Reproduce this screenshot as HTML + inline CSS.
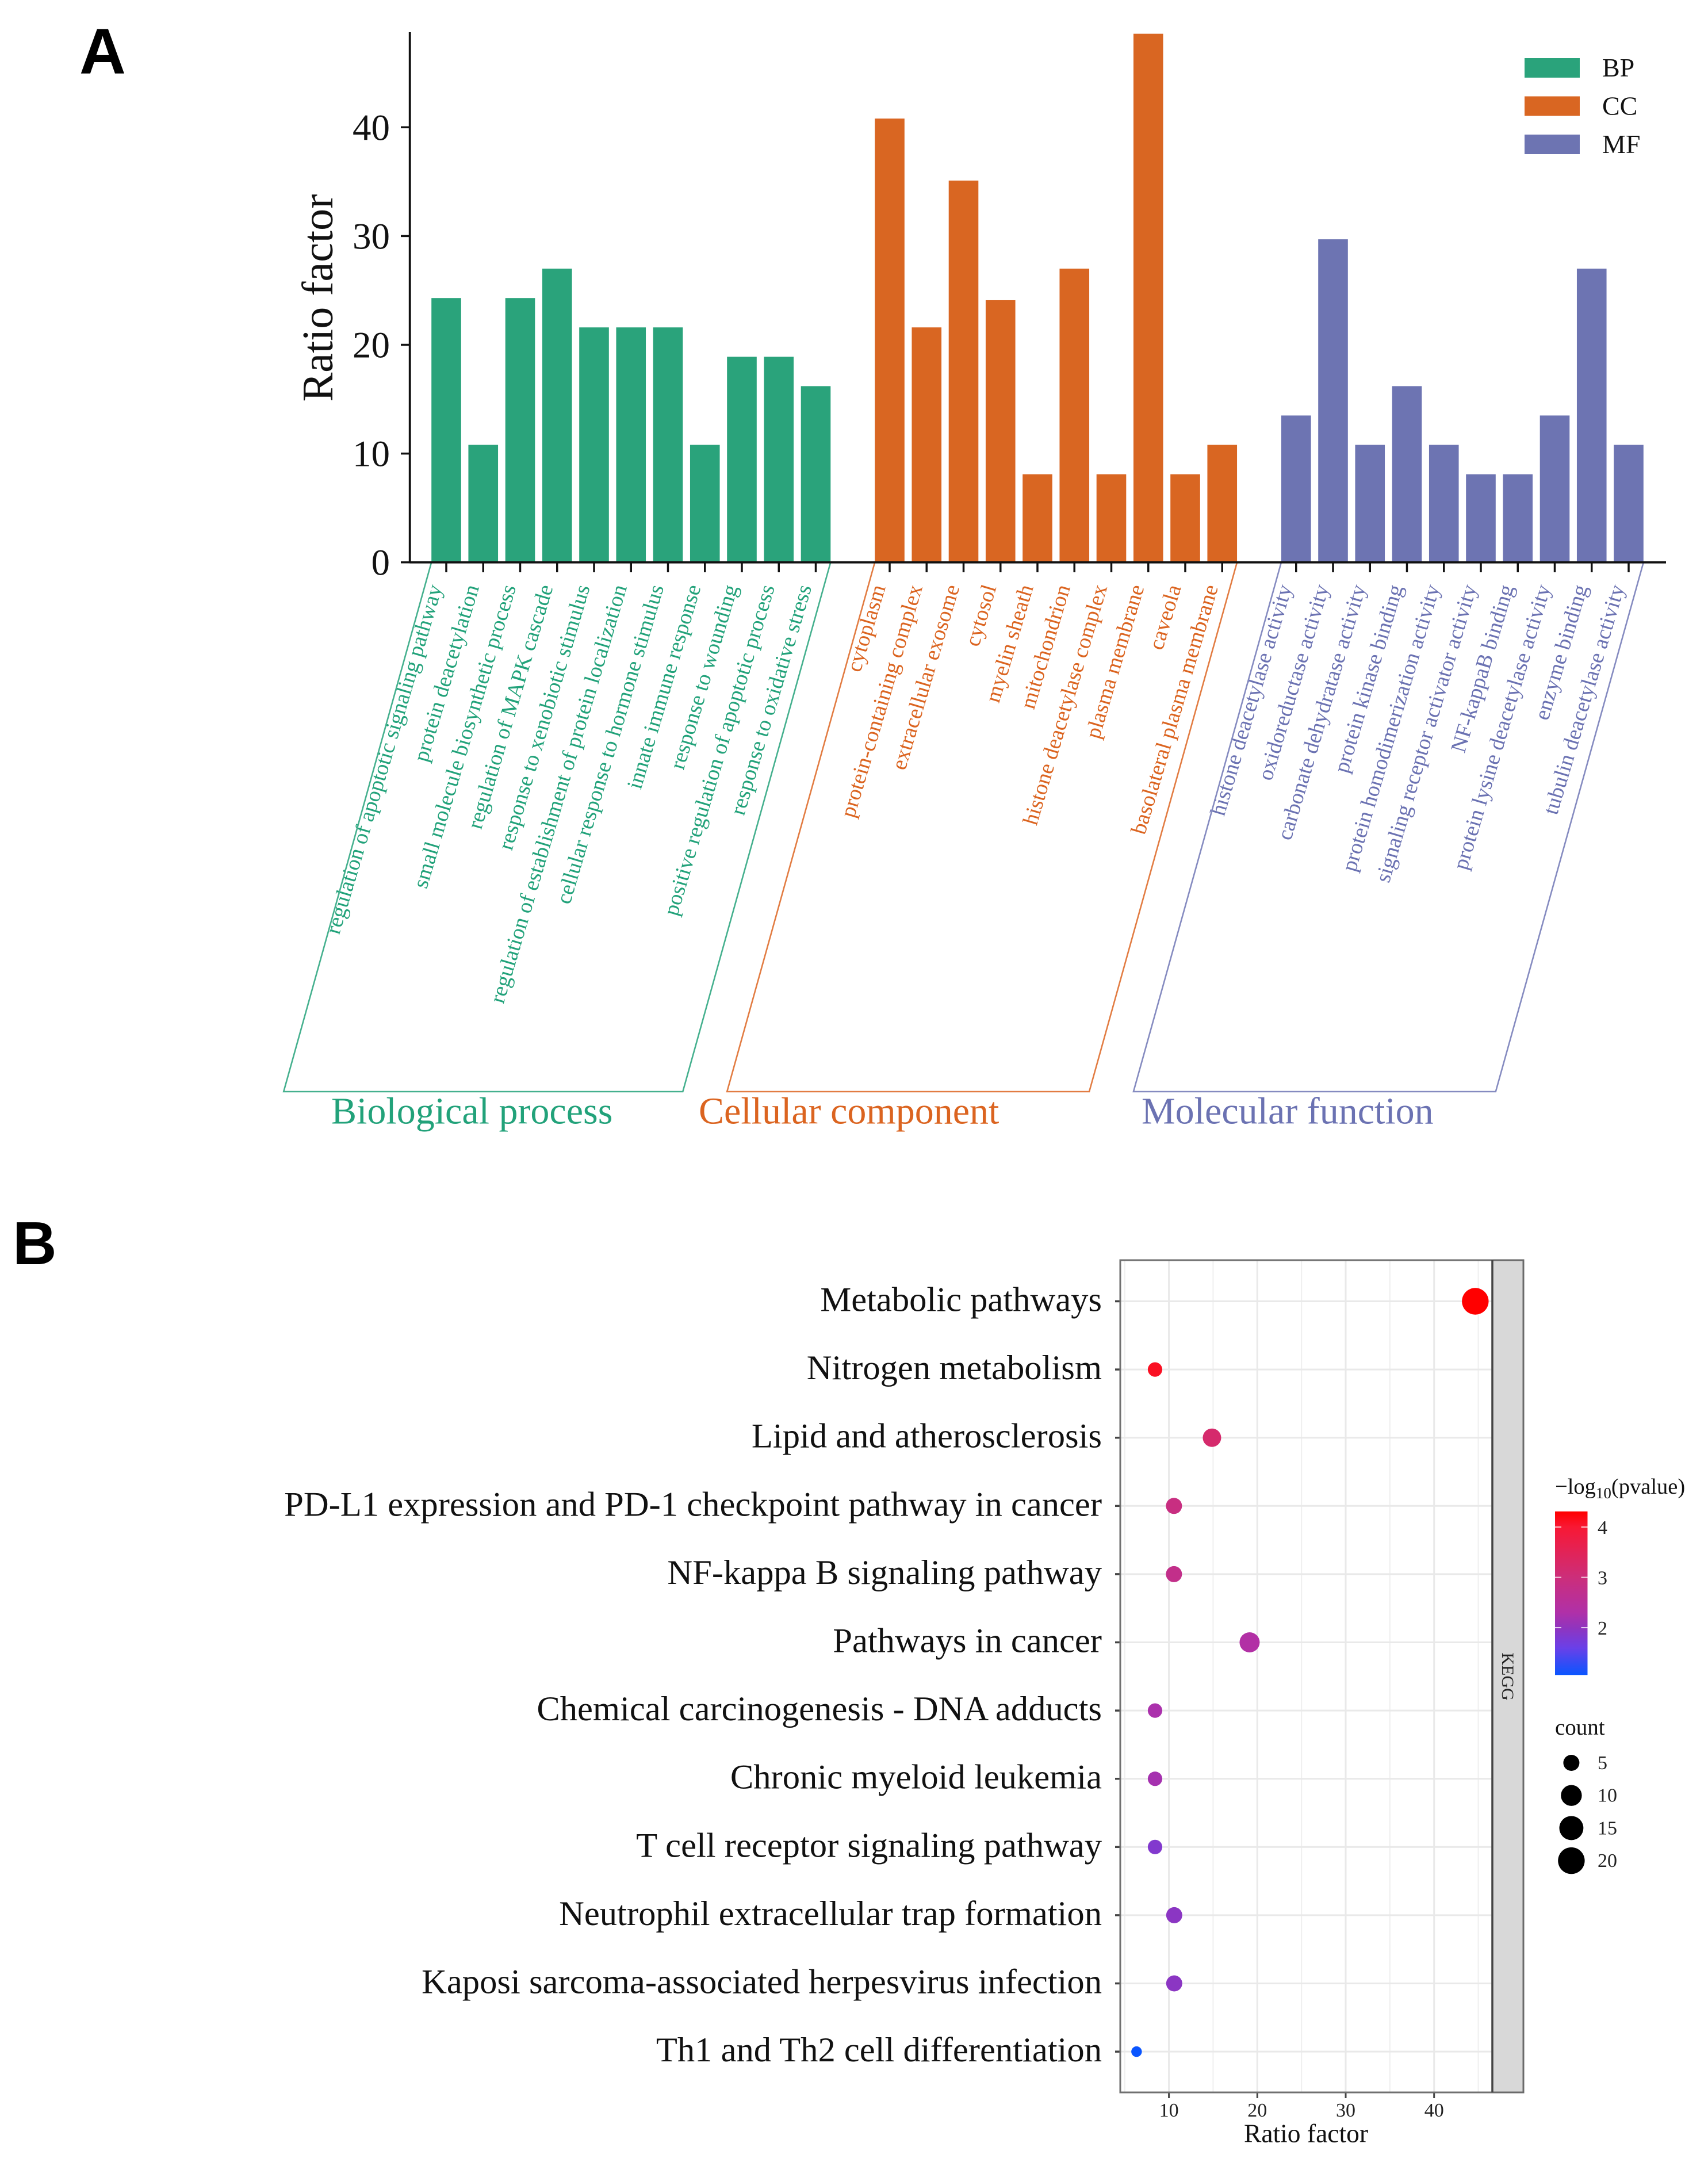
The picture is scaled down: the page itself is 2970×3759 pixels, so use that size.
<!DOCTYPE html>
<html lang="en">
<head>
<meta charset="utf-8">
<title>GO and KEGG enrichment</title>
<style>
html,body{margin:0;padding:0;background:#fff;}
svg{display:block;font-family:"Liberation Serif",serif;}
</style>
</head>
<body>
<svg id="figure" xmlns="http://www.w3.org/2000/svg" width="2970" height="3759" viewBox="0 0 2970 3759">
<rect x="0" y="0" width="2970" height="3759" fill="#ffffff"/>
<defs>
<linearGradient id="pvalueGradient" x1="0" y1="1" x2="0" y2="0"></linearGradient>
</defs>
<text x="138" y="128" font-family="'Liberation Sans',sans-serif" font-weight="700" font-size="112" fill="#000">A</text>
<text x="22" y="2198" font-family="'Liberation Sans',sans-serif" font-weight="700" font-size="106" fill="#000">B</text>
<g id="panelA"></g>
<g id="panelB"></g>
</svg>
<script>
/* ---------- Panel A data ---------- */
const bpTerms = ["regulation of apoptotic signaling pathway","protein deacetylation","small molecule biosynthetic process","regulation of MAPK cascade","response to xenobiotic stimulus","regulation of establishment of protein localization","cellular response to hormone stimulus","innate immune response","response to wounding","positive regulation of apoptotic process","response to oxidative stress"];
const bpValues = [24.3,10.8,24.3,27.0,21.6,21.6,21.6,10.8,18.9,18.9,16.2];
const ccTerms = ["cytoplasm","protein-containing complex","extracellular exosome","cytosol","myelin sheath","mitochondrion","histone deacetylase complex","plasma membrane","caveola","basolateral plasma membrane"];
const ccValues = [40.8,21.6,35.1,24.1,8.1,27.0,8.1,48.6,8.1,10.8];
const mfTerms = ["histone deacetylase activity","oxidoreductase activity","carbonate dehydratase activity","protein kinase binding","protein homodimerization activity","signaling receptor activator activity","NF-kappaB binding","protein lysine deacetylase activity","enzyme binding","tubulin deacetylase activity"];
const mfValues = [13.5,29.7,10.8,16.2,10.8,8.1,8.1,13.5,27.0,10.8];
const yTicksA = [0,10,20,30,40];
const legendKeys = ["BP","CC","MF"];
const groupTitles = ["Biological process","Cellular component","Molecular function"];

/* ---------- Panel B data ---------- */
const pathways = ["Metabolic pathways","Nitrogen metabolism","Lipid and atherosclerosis","PD-L1 expression and PD-1 checkpoint pathway in cancer","NF-kappa B signaling pathway","Pathways in cancer","Chemical carcinogenesis - DNA adducts","Chronic myeloid leukemia","T cell receptor signaling pathway","Neutrophil extracellular trap formation","Kaposi sarcoma-associated herpesvirus infection","Th1 and Th2 cell differentiation"];
const ratioFactor = [44.66,8.43,14.87,10.57,10.57,19.13,8.43,8.43,8.43,10.6,10.6,6.34];
const geneCount = [20,4,7,5,5,9,4,4,4,5,5,3];
const logP = [4.31,4.1,3.2,2.9,2.75,2.35,2.25,2.2,1.85,1.95,1.95,1.06];
const xTicksB = [10,20,30,40];
const xMinorB = [5,15,25,35,45];
const pTicks = [2,3,4];
const countTicks = [5,10,15,20];

/* ---------- Helpers ---------- */
const NS = "http://www.w3.org/2000/svg";
const panelA = document.getElementById("panelA");
const panelB = document.getElementById("panelB");
function make(parent, tag, attrs, txt){
  const e = document.createElementNS(NS, tag);
  for (const k in attrs) e.setAttribute(k, attrs[k]);
  if (txt !== undefined) e.textContent = txt;
  parent.appendChild(e);
  return e;
}

/* ---------- Panel A axes ---------- */
const yA = v => 977.7 - 18.91 * v;
const xA = i => 776 + 64.25 * i;
const BAR_W = 51.6;
const groupsA = [
  {key:"bp", terms:bpTerms, values:bpValues, start:0, fill:"#2AA37B", text:"#22A27A", line:"#45B08E"},
  {key:"cc", terms:ccTerms, values:ccValues, start:12, fill:"#D96622", text:"#DB6420", line:"#E27C42"},
  {key:"mf", terms:mfTerms, values:mfValues, start:23, fill:"#6D74B2", text:"#6B72B2", line:"#858BC0"}
];
const titleX = [576,1215,1985];

groupsA.forEach((g, gi) => {
  g.values.forEach((v, i) => {
    const cx = xA(g.start + i);
    const bar = make(panelA, "rect", {x:cx-BAR_W/2, y:yA(v), width:BAR_W, height:yA(0)-yA(v), fill:g.fill});
    
    
    const tick = make(panelA, "line", {x1:cx, x2:cx, y1:yA(0), y2:995, stroke:"#111", "stroke-width":3.5});
    
    
    const lab = make(panelA, "text", {transform:"translate("+(cx-7)+",1021) rotate(-73.5)", "text-anchor":"end", "font-size":37.9, fill:g.text}, g.terms[i]);
    
    
  });
  const L = xA(g.start) - BAR_W/2, R = xA(g.start + g.values.length - 1) + BAR_W/2, SH = 257, B = 1898;
  const box = make(panelA, "polygon", {points:[L,yA(0),L-SH,B,R-SH,B,R,yA(0)].join(" "), fill:"none", stroke:g.line, "stroke-width":2.6});
  
  
  const t = make(panelA, "text", {x:titleX[gi], y:1953.5, "font-size":66, fill:g.text}, groupTitles[gi]);
  
  
});

const yAxisA = make(panelA, "line", {x1:712.7, x2:712.7, y1:56, y2:979.5, stroke:"#111", "stroke-width":3.8});


const xAxisA = make(panelA, "line", {x1:712.7, x2:2897, y1:yA(0), y2:yA(0), stroke:"#111", "stroke-width":3.8});



yTicksA.forEach(v => {
  const t = make(panelA, "line", {x1:697, x2:712.7, y1:yA(v), y2:yA(v), stroke:"#111", "stroke-width":3.5});
  
  
  const l = make(panelA, "text", {x:678, y:yA(v)+22, "text-anchor":"end", "font-size":65, fill:"#111"}, String(v));
  
  
});

const yTitleA = make(panelA, "text", {transform:"translate(578,518) rotate(-90)", "text-anchor":"middle", "font-size":76, fill:"#111"}, "Ratio factor");



legendKeys.forEach((k, i) => {
  const y = 101 + i * 66.5;
  const s = make(panelA, "rect", {x:2651, y:y, width:96, height:34, fill:groupsA[i].fill});
  
  
  const l = make(panelA, "text", {x:2786, y:y+32, "font-size":46, fill:"#111"}, k);
  
  
});

/* ---------- Panel B axes ---------- */
const xB = v => 2032.6 + 15.37 * (v - 10);
const yB = i => 2262.5 + 118.6 * i;
const rB = c => 9.2 + 14 * Math.sqrt((c - 3) / 17);
const PANEL = {l:1948, t:2191, r:2595, b:3638, strip:2649};
const colorStops = [[1.06,[10,85,255]],[1.6,[106,64,232]],[2,[144,52,190]],[2.3,[176,48,168]],[3,[204,46,122]],[4,[248,24,52]],[4.31,[255,0,0]]];
function colorB(p){
  for (let i = 1; i < colorStops.length; i++){
    if (p <= colorStops[i][0]){
      const a = colorStops[i-1], b = colorStops[i], f = Math.max(0,(p-a[0])/(b[0]-a[0]));
      return "rgb(" + a[1].map((c,j) => Math.round(c+(b[1][j]-c)*f)).join(",") + ")";
    }
  }
  return "rgb(255,0,0)";
}

xMinorB.forEach(v => {
  const g = make(panelB, "line", {x1:xB(v), x2:xB(v), y1:PANEL.t, y2:PANEL.b, stroke:"#efefef", "stroke-width":2});
  
  
});
xTicksB.forEach(v => {
  const g = make(panelB, "line", {x1:xB(v), x2:xB(v), y1:PANEL.t, y2:PANEL.b, stroke:"#e9e9e9", "stroke-width":3});
  
  
  const t = make(panelB, "line", {x1:xB(v), x2:xB(v), y1:PANEL.b, y2:PANEL.b+10, stroke:"#444", "stroke-width":3});
  
  
  const l = make(panelB, "text", {x:xB(v), y:3680, "text-anchor":"middle", "font-size":34, fill:"#222"}, String(v));
  
  
});

pathways.forEach((name, i) => {
  const g = make(panelB, "line", {x1:PANEL.l, x2:PANEL.r, y1:yB(i), y2:yB(i), stroke:"#e9e9e9", "stroke-width":3});
  
  
  const t = make(panelB, "line", {x1:1939, x2:PANEL.l, y1:yB(i), y2:yB(i), stroke:"#444", "stroke-width":3.5});
  
  
  const l = make(panelB, "text", {x:1916, y:yB(i)+17, "text-anchor":"end", "font-size":60.6, fill:"#111"}, name);
  
  
});

const strip = make(panelB, "rect", {x:PANEL.r, y:PANEL.t, width:PANEL.strip-PANEL.r, height:PANEL.b-PANEL.t, fill:"#d8d8d8", stroke:"#6a6a6a", "stroke-width":3});


const stripLabel = make(panelB, "text", {transform:"translate(2612,2915) rotate(90)", "text-anchor":"middle", "font-size":30, fill:"#222"}, "KEGG");


const border = make(panelB, "rect", {x:PANEL.l, y:PANEL.t, width:PANEL.r-PANEL.l, height:PANEL.b-PANEL.t, fill:"none", stroke:"#707070", "stroke-width":3});


const divider = make(panelB, "line", {x1:PANEL.r, x2:PANEL.r, y1:PANEL.t, y2:PANEL.b, stroke:"#444", "stroke-width":3.5});



pathways.forEach((name, i) => {
  const d = make(panelB, "circle", {cx:xB(ratioFactor[i]), cy:yB(i), r:rB(geneCount[i]), fill:colorB(logP[i])});
  
  
});

const xTitleB = make(panelB, "text", {x:2271, y:3724.6, "text-anchor":"middle", "font-size":45.5, fill:"#111"}, "Ratio factor");



/* pvalue legend */
const lTitle = make(panelB, "text", {x:2704, y:2597, "font-size":38.5, fill:"#111"});


make(lTitle, "tspan", {}, "\u2212log");
make(lTitle, "tspan", {"font-size":27, dy:8}, "10");
make(lTitle, "tspan", {dy:-8}, "(pvalue)");

const P_MIN = 1.06, P_MAX = 4.31;
const yP = p => 2830 - 87.5 * (p - 2);
const grad = document.getElementById("pvalueGradient");
colorStops.forEach(s => {
  make(grad, "stop", {offset:(s[0]-P_MIN)/(P_MAX-P_MIN), "stop-color":colorB(s[0])});
});
const cbar = make(panelB, "rect", {x:2704, y:yP(P_MAX), width:56.5, height:yP(P_MIN)-yP(P_MAX), fill:"url(#pvalueGradient)"});


pTicks.forEach(p => {
  const a = make(panelB, "line", {x1:2704, x2:2715, y1:yP(p), y2:yP(p), stroke:"#fff", "stroke-opacity":0.75, "stroke-width":2});
  
  
  const b = make(panelB, "line", {x1:2749.5, x2:2760.5, y1:yP(p), y2:yP(p), stroke:"#fff", "stroke-opacity":0.75, "stroke-width":2});
  
  
  const l = make(panelB, "text", {x:2778, y:yP(p)+12, "font-size":34, fill:"#222"}, String(p));
  
  
});

/* count legend */
const cTitle = make(panelB, "text", {x:2704, y:3016, "font-size":39, fill:"#111"}, "count");


countTicks.forEach((c, i) => {
  const y = 3065 + i * 56.7;
  const d = make(panelB, "circle", {cx:2732.4, cy:y, r:rB(c), fill:"#000"});
  
  
  const l = make(panelB, "text", {x:2778, y:y+11, "font-size":34, fill:"#222"}, String(c));
  
  
});
</script>
</body>
</html>
